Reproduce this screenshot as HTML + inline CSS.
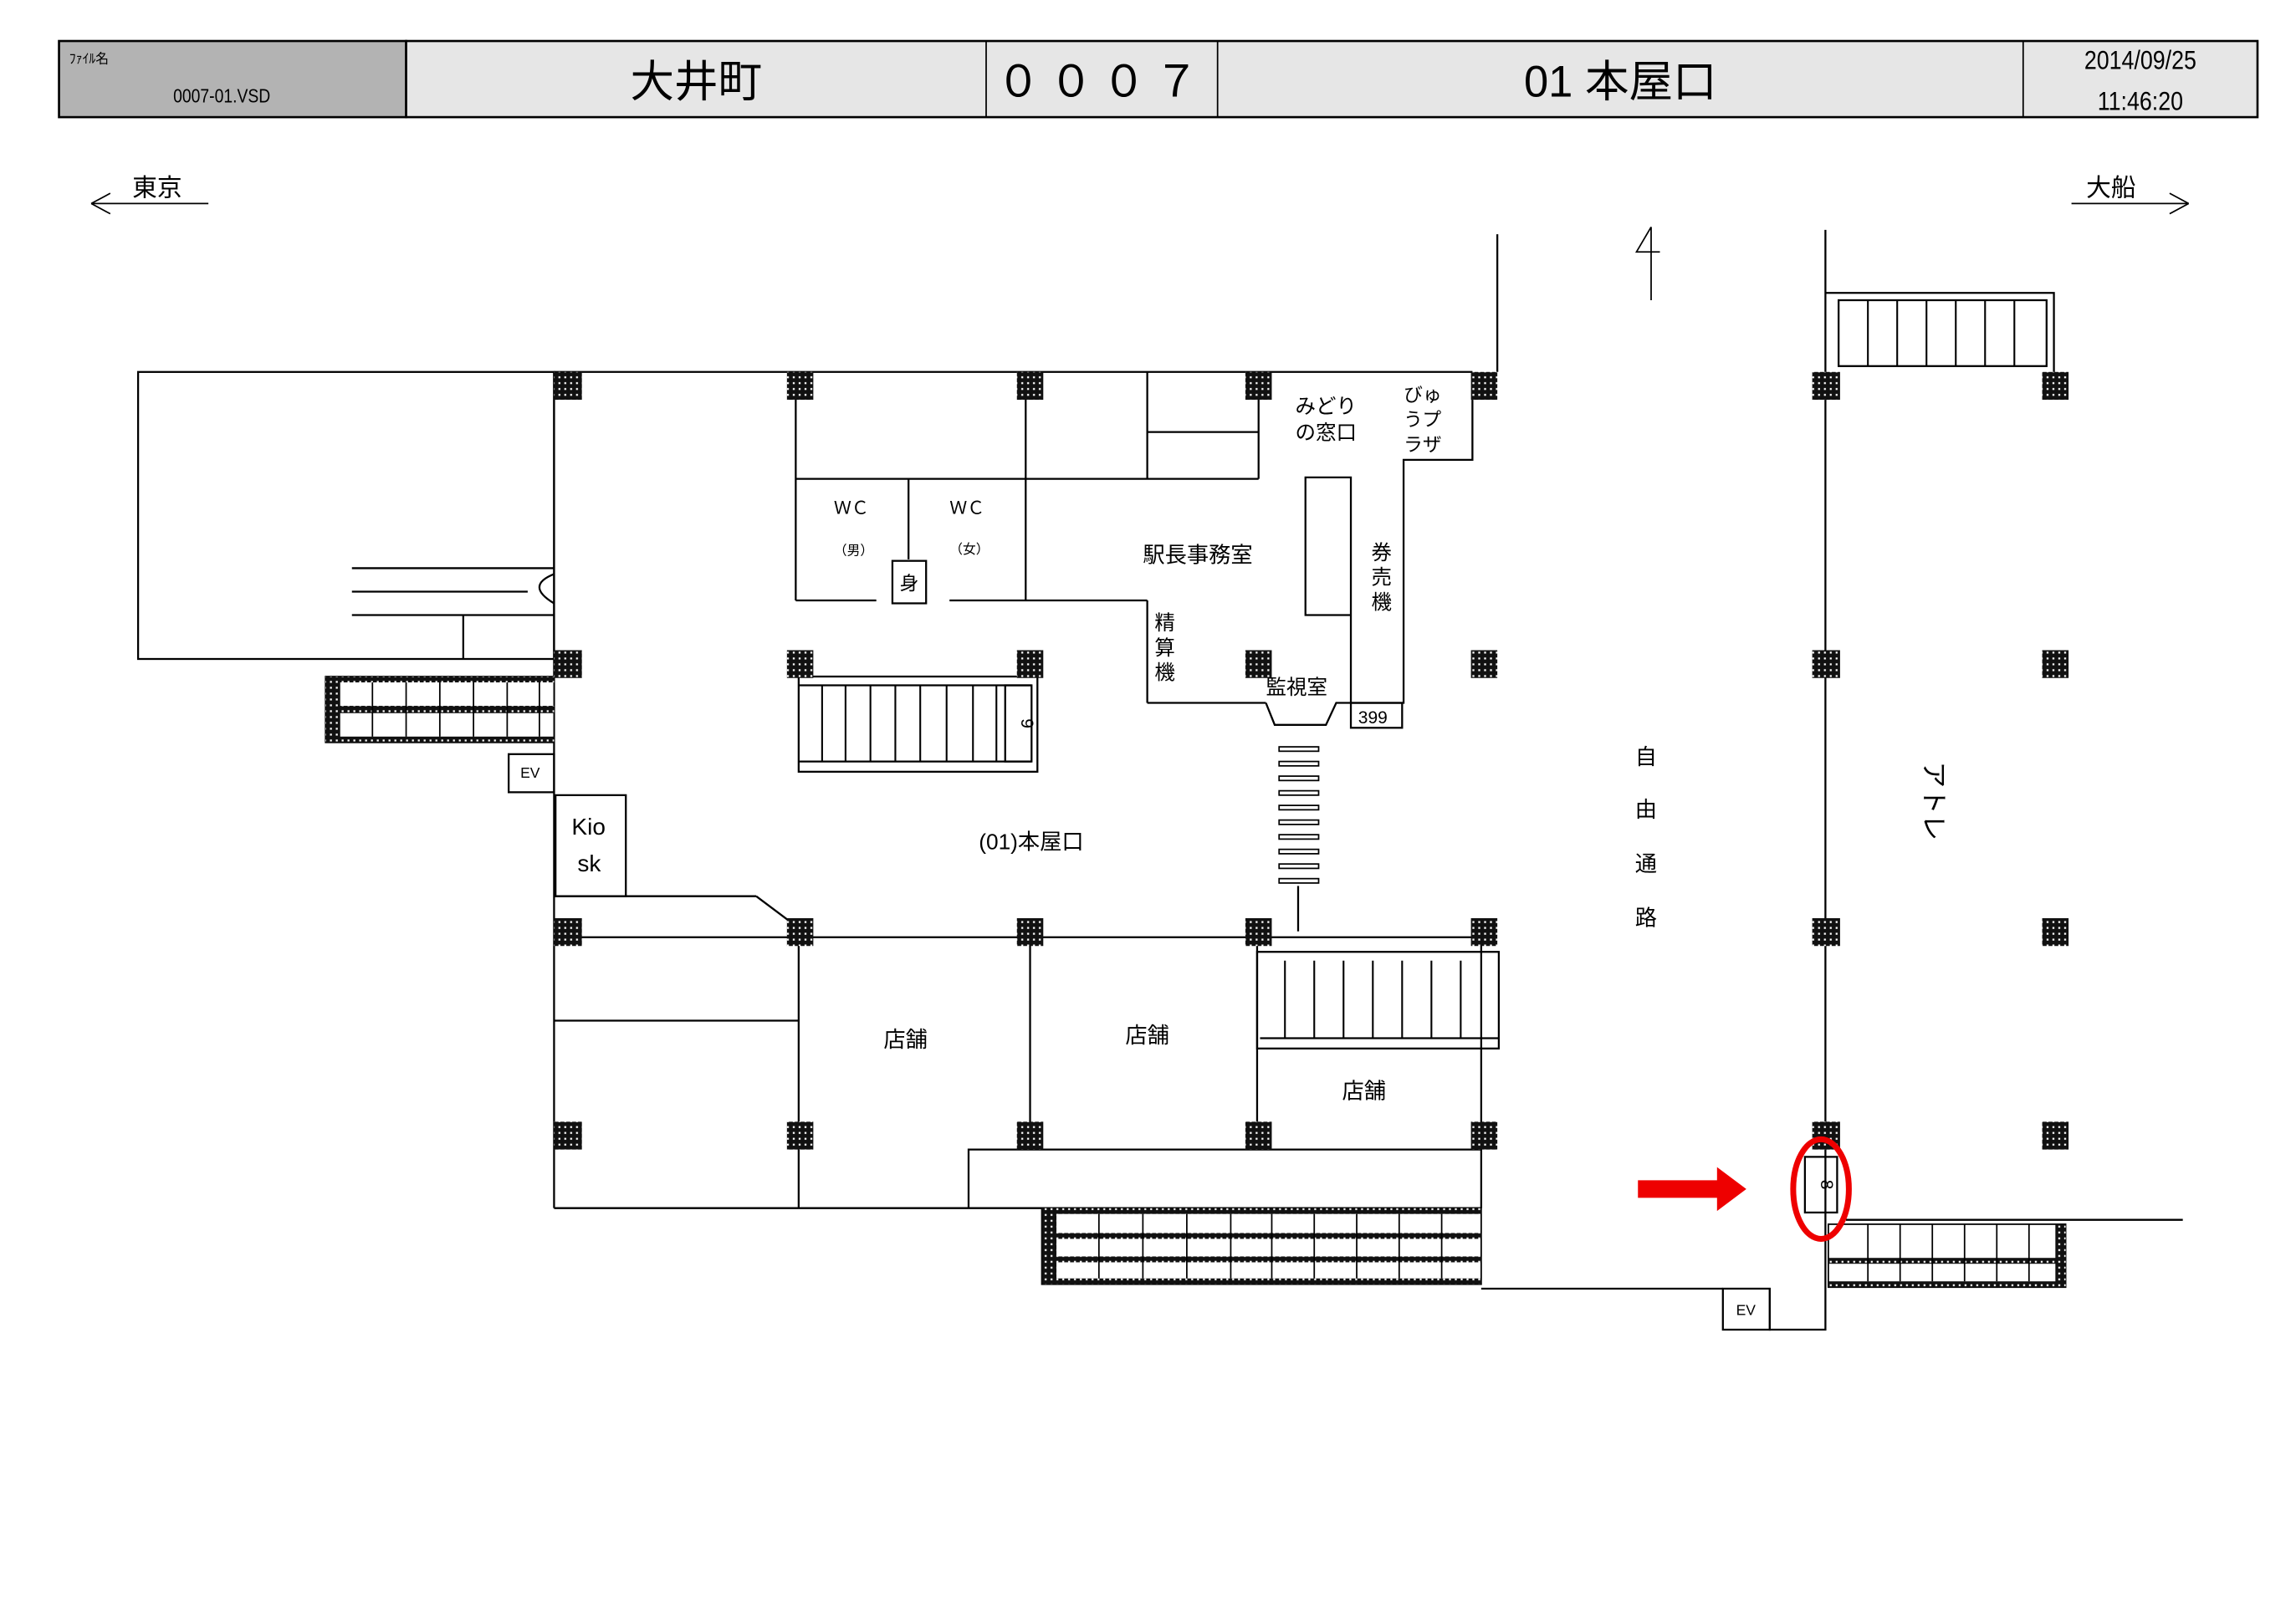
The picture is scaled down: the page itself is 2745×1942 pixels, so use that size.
<!DOCTYPE html>
<html><head><meta charset="utf-8"><style>
html,body{margin:0;padding:0;background:#fff;}
svg{display:block;}
text{font-family:"Liberation Sans","Noto Sans CJK JP",sans-serif;fill:#000;}
</style></head><body>
<svg width="2745" height="1942" viewBox="0 0 1567 1109" xmlns="http://www.w3.org/2000/svg">
<defs>
<pattern id="h" width="4" height="4" patternUnits="userSpaceOnUse">
<rect width="4" height="4" fill="#111"/><rect x="1" y="1" width="1.3" height="1.3" fill="#fff"/>
</pattern>
</defs>
<!-- header -->
<rect x="40" y="28" width="237" height="52" fill="#b3b3b3" stroke="#000" stroke-width="1.5"/>
<rect x="277" y="28" width="1264" height="52" fill="#e6e6e6" stroke="#000" stroke-width="1.5"/>
<line x1="673" y1="28" x2="673" y2="80" stroke="#000"/>
<line x1="831" y1="28" x2="831" y2="80" stroke="#000"/>
<line x1="1381" y1="28" x2="1381" y2="80" stroke="#000"/>
<text x="47" y="43" font-size="9">ﾌｧｲﾙ名</text>
<text x="118" y="70" font-size="13" transform="translate(118 70) scale(0.85 1) translate(-118 -70)">0007-01.VSD</text>
<text x="475" y="66" font-size="30" text-anchor="middle">大井町</text>
<text x="752" y="66" font-size="30" text-anchor="middle" letter-spacing="6">０００７</text>
<text x="1106" y="66" font-size="30" text-anchor="middle">01 本屋口</text>
<text x="1461" y="47" font-size="18" text-anchor="middle" transform="translate(1461 0) scale(0.85 1) translate(-1461 0)">2014/09/25</text>
<text x="1461" y="75" font-size="18" text-anchor="middle" transform="translate(1461 0) scale(0.85 1) translate(-1461 0)">11:46:20</text>
<!-- direction -->
<text x="90" y="134" font-size="17">東京</text>
<line x1="62" y1="139" x2="142" y2="139" stroke="#000"/>
<path d="M62,139 L75,132 M62,139 L75,146" stroke="#000"/>
<text x="1424" y="134" font-size="17">大船</text>
<line x1="1414" y1="139" x2="1494" y2="139" stroke="#000"/>
<path d="M1494,139 L1481,132 M1494,139 L1481,146" stroke="#000"/>
<path d="M1127,155 V205 M1127,155 L1117,172 H1133" fill="none" stroke="#000"/>
<g fill="none" stroke="#000" stroke-width="1.3">
<rect x="94" y="254" width="284" height="196"/>
<line x1="378" y1="254" x2="1005" y2="254"/>
<line x1="240" y1="388" x2="378" y2="388"/>
<line x1="240" y1="404" x2="360" y2="404"/>
<line x1="240" y1="420" x2="378" y2="420"/>
<line x1="316" y1="420" x2="316" y2="450"/>
<path d="M378,392 Q358,400 378,412"/>
<line x1="378" y1="254" x2="378" y2="825"/>
<line x1="543" y1="254" x2="543" y2="410"/>
<line x1="543" y1="327" x2="700" y2="327"/>
<line x1="700" y1="254" x2="700" y2="410"/>
<line x1="620" y1="327" x2="620" y2="382"/>
<line x1="543" y1="410" x2="598" y2="410"/>
<line x1="648" y1="410" x2="783" y2="410"/>
<rect x="609" y="383" width="23" height="29"/>
<line x1="783" y1="254" x2="783" y2="327"/>
<line x1="783" y1="295" x2="859" y2="295"/>
<line x1="700" y1="327" x2="859" y2="327"/>
<line x1="859" y1="254" x2="859" y2="327"/>
<line x1="783" y1="410" x2="783" y2="480"/>
<line x1="783" y1="480" x2="864" y2="480"/>
<path d="M864,480 L870,495 H905 L912,480 H922"/>
<path d="M1005,254 V314 H958 V480 H922 V326 H891 V420 H922"/>
<rect x="922" y="480" width="35" height="17"/>
<line x1="1022" y1="160" x2="1022" y2="254"/>
<rect x="545" y="462" width="163" height="65"/>
<line x1="545" y1="520" x2="704" y2="520"/>
<line x1="545" y1="468" x2="704" y2="468"/>
<rect x="686" y="468" width="18" height="52"/>
<line x1="886" y1="605" x2="886" y2="636"/>
<line x1="378" y1="612" x2="516" y2="612"/>
<line x1="516" y1="612" x2="540" y2="630"/>
<rect x="379" y="543" width="48" height="69"/>
<rect x="347" y="515" width="31" height="26"/>
<line x1="378" y1="640" x2="1013" y2="640"/>
<line x1="378" y1="697" x2="545" y2="697"/>
<line x1="545" y1="640" x2="545" y2="825"/>
<line x1="703" y1="640" x2="703" y2="785"/>
<line x1="858" y1="640" x2="858" y2="785"/>
<line x1="1011" y1="640" x2="1011" y2="825"/>
<line x1="378" y1="825" x2="1011" y2="825"/>
<path d="M661,825 V785 H1011"/>
<rect x="858" y="650" width="165" height="66"/>
<line x1="860" y1="709" x2="1023" y2="709"/>
<line x1="1246" y1="157" x2="1246" y2="880"/>
<path d="M1246,200 H1402 V255"/>
<rect x="1255" y="205" width="142" height="45"/>
<path d="M1011,880 H1176 M1208,880 V908 H1246 V880"/>
<rect x="1176" y="880" width="32" height="28"/>
<line x1="1260" y1="833" x2="1490" y2="833"/>
<rect x="1232" y="790" width="22" height="38"/>
</g>
<g stroke="#000" stroke-width="1.2">
<path d="M561,468V520 M577,468V520 M594,468V520 M611,468V520 M628,468V520 M646,468V520 M664,468V520 M680,468V520"/>
<path d="M877,656V709 M897,656V709 M917,656V709 M937,656V709 M957,656V709 M977,656V709 M997,656V709"/>
<path d="M1275,205V250 M1295,205V250 M1315,205V250 M1335,205V250 M1355,205V250 M1375,205V250"/>
</g>
<g fill="none" stroke="#000" stroke-width="1">
<rect x="873" y="510" width="27" height="3"/><rect x="873" y="520" width="27" height="3"/><rect x="873" y="530" width="27" height="3"/><rect x="873" y="540" width="27" height="3"/><rect x="873" y="550" width="27" height="3"/><rect x="873" y="560" width="27" height="3"/><rect x="873" y="570" width="27" height="3"/><rect x="873" y="580" width="27" height="3"/><rect x="873" y="590" width="27" height="3"/><rect x="873" y="600" width="27" height="3"/>
</g>
<rect x="222" y="462" width="156" height="45" fill="#fff" stroke="#000"/>
<rect x="222" y="462" width="10" height="45" fill="url(#h)"/>
<rect x="222" y="462" width="156" height="4" fill="url(#h)"/>
<rect x="222" y="482" width="156" height="5" fill="url(#h)"/>
<rect x="222" y="503" width="156" height="4" fill="url(#h)"/>
<path d="M254,466V503 M277,466V503 M300,466V503 M323,466V503 M346,466V503 M368,466V503" stroke="#000"/>
<rect x="711" y="825" width="300" height="52" fill="#fff" stroke="#000"/>
<rect x="711" y="825" width="10" height="52" fill="url(#h)"/>
<rect x="711" y="825" width="300" height="4" fill="url(#h)"/>
<rect x="711" y="842" width="300" height="4" fill="url(#h)"/>
<rect x="711" y="858" width="300" height="4" fill="url(#h)"/>
<rect x="711" y="873" width="300" height="4" fill="url(#h)"/>
<path d="M750,829V873 M780,829V873 M810,829V873 M840,829V873 M868,829V873 M897,829V873 M926,829V873 M955,829V873 M984,829V873" stroke="#000"/>
<rect x="1248" y="836" width="162" height="43" fill="#fff" stroke="#000"/>
<rect x="1248" y="859" width="162" height="4" fill="url(#h)"/>
<rect x="1248" y="875" width="162" height="4" fill="url(#h)"/>
<rect x="1403" y="836" width="7" height="43" fill="url(#h)"/>
<path d="M1275,836V875 M1297,836V875 M1319,836V875 M1341,836V875 M1363,836V875 M1385,836V875" stroke="#000"/>
<g fill="url(#h)">
<rect x="378" y="254" width="19" height="19"/><rect x="537" y="254" width="18" height="19"/><rect x="694" y="254" width="18" height="19"/><rect x="850" y="254" width="18" height="19"/><rect x="1004" y="254" width="18" height="19"/><rect x="1237" y="254" width="19" height="19"/><rect x="1394" y="254" width="18" height="19"/>
<rect x="378" y="444" width="19" height="19"/><rect x="537" y="444" width="18" height="19"/><rect x="694" y="444" width="18" height="19"/><rect x="850" y="444" width="18" height="19"/><rect x="1004" y="444" width="18" height="19"/><rect x="1237" y="444" width="19" height="19"/><rect x="1394" y="444" width="18" height="19"/>
<rect x="378" y="627" width="19" height="19"/><rect x="537" y="627" width="18" height="19"/><rect x="694" y="627" width="18" height="19"/><rect x="850" y="627" width="18" height="19"/><rect x="1004" y="627" width="18" height="19"/><rect x="1237" y="627" width="19" height="19"/><rect x="1394" y="627" width="18" height="19"/>
<rect x="378" y="766" width="19" height="19"/><rect x="537" y="766" width="18" height="19"/><rect x="694" y="766" width="18" height="19"/><rect x="850" y="766" width="18" height="19"/><rect x="1004" y="766" width="18" height="19"/><rect x="1237" y="766" width="19" height="19"/><rect x="1394" y="766" width="18" height="19"/>
</g>
<g font-size="15">
<text x="884" y="282" font-size="14">みどり</text>
<text x="884" y="300" font-size="14">の窓口</text>
<text x="958" y="274" font-size="13">びゅ</text>
<text x="958" y="291" font-size="13">うプ</text>
<text x="958" y="308" font-size="13">ラザ</text>
<text x="569" y="351" font-size="12">ＷＣ</text>
<text x="648" y="351" font-size="12">ＷＣ</text>
<text x="569" y="379" font-size="9">（男）</text>
<text x="648" y="378" font-size="9">（女）</text>
<text x="614" y="403" font-size="13">身</text>
<text x="780" y="384">駅長事務室</text>
<text x="936" y="382" font-size="14">券</text>
<text x="936" y="399" font-size="14">売</text>
<text x="936" y="416" font-size="14">機</text>
<text x="788" y="430" font-size="14">精</text>
<text x="788" y="447" font-size="14">算</text>
<text x="788" y="464" font-size="14">機</text>
<text x="864" y="474" font-size="14">監視室</text>
<text x="927" y="494" font-size="12">399</text>
<text x="697" y="494" font-size="12" transform="rotate(90 697 494)" text-anchor="middle">9</text>
<text x="668" y="580">(01)本屋口</text>
<text x="390" y="570" font-size="16">Kio</text>
<text x="394" y="595" font-size="16">sk</text>
<text x="355" y="531" font-size="10">EV</text>
<text x="1185" y="898" font-size="10">EV</text>
<text x="603" y="715">店舗</text>
<text x="768" y="712">店舗</text>
<text x="916" y="750">店舗</text>
<text x="1116" y="522" font-size="15">自</text>
<text x="1116" y="558" font-size="15">由</text>
<text x="1116" y="595" font-size="15">通</text>
<text x="1116" y="632" font-size="15">路</text>
<text x="0" y="0" font-size="18" transform="translate(1314 520) rotate(90)">アトレ</text>
<text x="1243" y="809" font-size="12" transform="rotate(90 1243 809)" text-anchor="middle">8</text>
</g>
<ellipse cx="1243" cy="812" rx="19" ry="34" fill="none" stroke="#e00" stroke-width="4"/>
<path d="M1118,806 H1172 V797 L1192,812 L1172,827 V818 H1118 Z" fill="#e00"/>
</svg>
</body></html>
